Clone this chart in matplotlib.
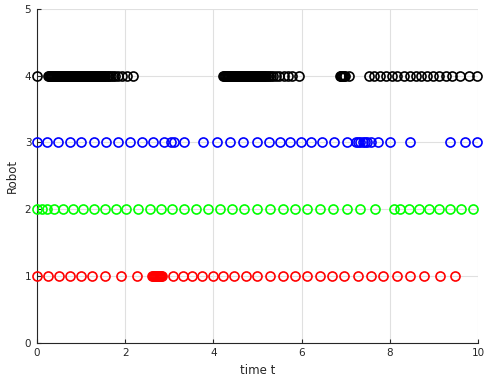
import matplotlib.pyplot as plt
import numpy as np

# event times for each robot
t_robot1 = [0.0, 0.26, 0.51, 0.75, 1.0, 1.25, 1.54, 1.9, 2.28,
            2.62, 2.64, 2.66, 2.68, 2.70, 2.72, 2.74, 2.76, 2.78, 2.80,
            2.82, 2.84,
            3.09, 3.30, 3.52, 3.74, 3.98, 4.21, 4.47, 4.74, 4.98,
            5.29, 5.57, 5.84, 6.12, 6.41, 6.69, 6.97, 7.27, 7.56,
            7.84, 8.16, 8.46, 8.77, 9.13, 9.47]
t_robot2 = [0.0, 0.11, 0.22, 0.39, 0.60, 0.83, 1.05, 1.29, 1.54, 1.79,
            2.03, 2.30, 2.56, 2.81, 3.07, 3.34, 3.60, 3.87, 4.15, 4.43,
            4.70, 4.98, 5.29, 5.57, 5.84, 6.13, 6.42, 6.72, 7.03, 7.33,
            7.67, 8.09, 8.22, 8.43, 8.65, 8.88, 9.11, 9.37, 9.62, 9.89]
t_robot3 = [0.0, 0.22, 0.48, 0.75, 1.01, 1.29, 1.57, 1.83, 2.11, 2.39,
            2.64, 2.87, 3.03, 3.11, 3.34, 3.76, 4.09, 4.38, 4.68, 4.98,
            5.27, 5.51, 5.74, 5.98, 6.21, 6.46, 6.74, 7.03,
            7.22, 7.28, 7.33, 7.38, 7.43, 7.48, 7.56, 7.72,
            8.01, 8.45, 9.35, 9.71, 9.98]
t_robot4 = [0.0,
            0.25, 0.27, 0.29, 0.31, 0.33, 0.35, 0.37, 0.39, 0.41, 0.43,
            0.45, 0.47, 0.49, 0.51, 0.53, 0.55, 0.57, 0.59, 0.61, 0.63,
            0.65, 0.67, 0.69, 0.71, 0.73, 0.75, 0.77, 0.79, 0.81, 0.83,
            0.85, 0.87, 0.89, 0.91, 0.93, 0.95, 0.97, 0.99, 1.01, 1.03,
            1.05, 1.07, 1.09, 1.11, 1.13, 1.15, 1.17, 1.19, 1.21, 1.23,
            1.25, 1.27, 1.29, 1.31, 1.33, 1.35, 1.37, 1.39, 1.41, 1.43,
            1.45, 1.47, 1.49, 1.51, 1.53, 1.55, 1.58, 1.61, 1.64, 1.68,
            1.72, 1.77, 1.84, 1.93, 2.04, 2.18,
            4.22, 4.24, 4.26, 4.28, 4.30, 4.32, 4.34, 4.36, 4.38, 4.40,
            4.42, 4.44, 4.46, 4.48, 4.50, 4.52, 4.54, 4.56, 4.58, 4.60,
            4.62, 4.64, 4.66, 4.68, 4.70, 4.72, 4.74, 4.76, 4.78, 4.80,
            4.82, 4.84, 4.86, 4.88, 4.90, 4.92, 4.94, 4.96, 4.98, 5.00,
            5.02, 5.04, 5.06, 5.08, 5.10, 5.12, 5.14, 5.17, 5.20, 5.23,
            5.27, 5.31, 5.36, 5.42, 5.49,
            5.59, 5.68, 5.78, 5.95,
            6.86, 6.88, 6.90, 6.92, 6.94, 6.96, 6.98, 7.08,
            7.52, 7.65, 7.78, 7.92, 8.05, 8.17, 8.31, 8.45, 8.58, 8.70,
            8.84, 8.98, 9.11, 9.26, 9.41, 9.58, 9.79, 9.98]

series = [(t_robot1, 1, 'red'), (t_robot2, 2, 'lime'),
          (t_robot3, 3, 'blue'), (t_robot4, 4, 'black')]

fig = plt.figure(figsize=(4.85, 3.87), dpi=100)
ax = fig.add_axes([0.076, 0.114, 0.91, 0.863])

for t, r, c in series:
    ax.plot(t, np.full(len(t), r), 'o', mfc='none', mec=c, ms=6.5, mew=1.2,
            linestyle='none', clip_on=False, zorder=3)

ax.set_xlim(0, 10)
ax.set_ylim(0, 5)
ax.set_xticks([0, 2, 4, 6, 8, 10])
ax.set_yticks([0, 1, 2, 3, 4, 5])
ax.grid(True, color='#e0e0e0', linewidth=0.8)
ax.set_axisbelow(True)
for s in ['top', 'right']:
    ax.spines[s].set_visible(False)
for s in ['left', 'bottom']:
    ax.spines[s].set_color('#262626')
    ax.spines[s].set_linewidth(0.8)
ax.tick_params(direction='in', length=3, labelsize=7.5, colors='#262626', pad=4)
ax.set_xlabel('time t', fontsize=8.5, color='#262626')
ax.set_ylabel('Robot', fontsize=8.5, color='#262626')

fig.savefig('out.png', dpi=100)
